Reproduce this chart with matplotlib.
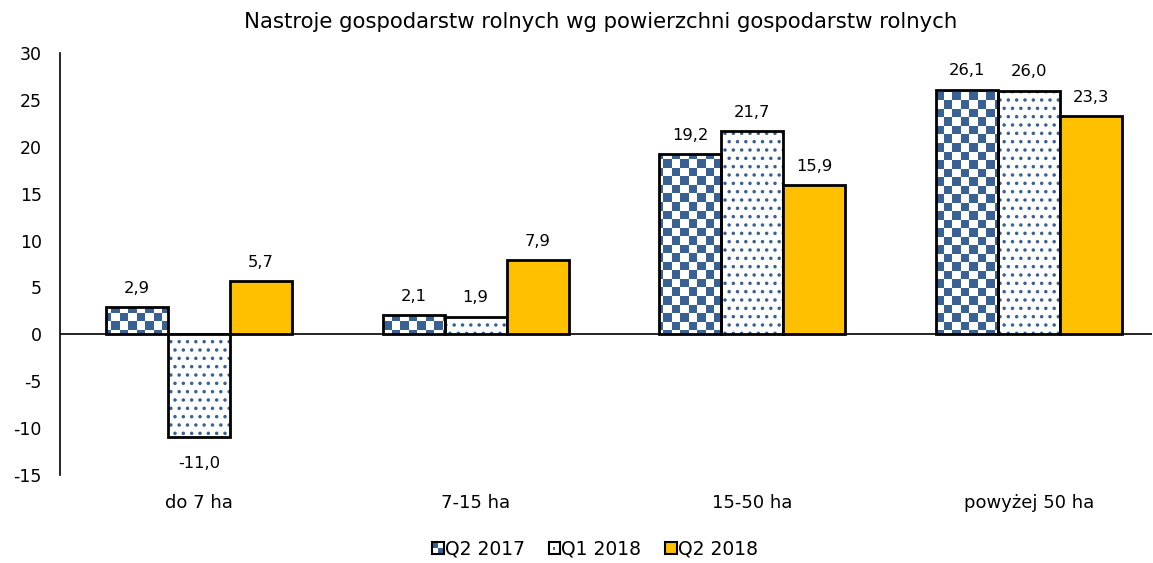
import numpy as np
import matplotlib
matplotlib.use("Agg")
import matplotlib.pyplot as plt
from matplotlib.patches import Rectangle
from matplotlib.legend_handler import HandlerBase
from matplotlib.colors import ListedColormap

categories = ["do 7 ha", "7-15 ha", "15-50 ha", "powyżej 50 ha"]
series_names = ["Q2 2017", "Q1 2018", "Q2 2018"]
q2_2017 = [2.9, 2.1, 19.2, 26.1]
q1_2018 = [-11.0, 1.9, 21.7, 26.0]
q2_2018 = [5.7, 7.9, 15.9, 23.3]
yticks = [-15, -10, -5, 0, 5, 10, 15, 20, 25, 30]
title = "Nastroje gospodarstw rolnych wg powierzchni gospodarstw rolnych"

BLUE = "#3A6194"
GOLD = "#FFC000"
plt.rcParams['font.family'] = ['DejaVu Sans']
plt.rcParams['hatch.linewidth'] = 1.3

W, H = 1153, 563
fig = plt.figure(figsize=(W / 100, H / 100), dpi=100)
ax = fig.add_axes([60 / W, 1 - 475 / H, (1152 - 60) / W, (475 - 53) / H])
xmin, xmax = -0.502, 3.444
ymin, ymax = -15, 30
ax.set_xlim(xmin, xmax)
ax.set_ylim(ymin, ymax)

x = np.arange(len(categories))
bw = 0.224
offs = [-bw, 0, bw]

# Q2 2017 checkerboard
base1 = ax.bar(x + offs[0], q2_2017, bw, color="white", linewidth=0, zorder=2)
px_per_x = (1152 - 60) / (xmax - xmin)
px_per_y = (475 - 53) / (ymax - ymin)
cell = 8.5
nx = int(np.ceil((xmax - xmin) * px_per_x / cell))
ny = int(np.ceil((ymax - ymin) * px_per_y / cell))
ii, jj = np.indices((ny, nx))
board = ((ii + jj) % 2).astype(float)
cmap = ListedColormap(["white", BLUE])
for p in base1.patches:
    im = ax.imshow(board, cmap=cmap, vmin=0, vmax=1, interpolation="nearest",
                   extent=(xmin, xmin + nx * cell / px_per_x, ymin, ymin + ny * cell / px_per_y),
                   origin="lower", aspect="auto", zorder=3)
    im.set_clip_path(p)
ax.bar(x + offs[0], q2_2017, bw, fill=False, edgecolor="black", linewidth=2, zorder=4)

# Q1 2018 dots
ax.bar(x + offs[1], q1_2018, bw, color="white", edgecolor=BLUE, linewidth=0,
       hatch="..", zorder=2)
ax.bar(x + offs[1], q1_2018, bw, fill=False, edgecolor="black", linewidth=2, zorder=4)

# Q2 2018 solid
ax.bar(x + offs[2], q2_2018, bw, color=GOLD, edgecolor="black", linewidth=2, zorder=4)

ax.axhline(0, color="black", linewidth=1.2, zorder=1)

for vals, off in zip([q2_2017, q1_2018, q2_2018], offs):
    for xi, v in zip(x, vals):
        lbl = f"{v:.1f}".replace(".", ",")
        if v >= 0:
            ax.annotate(lbl, (xi + off, v), xytext=(0, 8), textcoords="offset points",
                        ha="center", va="bottom", fontsize=11.8)
        else:
            ax.annotate(lbl, (xi + off, v), xytext=(0, -13), textcoords="offset points",
                        ha="center", va="top", fontsize=11.8)

ax.set_xticks(x)
ax.set_xticklabels(categories, fontsize=13)
ax.set_yticks(yticks)
ax.set_yticklabels([str(t) for t in yticks], fontsize=12.5)
ax.tick_params(axis="both", length=0)
ax.tick_params(axis="y", pad=13)
ax.tick_params(axis="x", pad=14)
for s in ["top", "right", "bottom"]:
    ax.spines[s].set_visible(False)
ax.spines["left"].set_linewidth(1.2)

fig.text(601 / W, 1 - 22 / H, title, ha="center", va="center", fontsize=15.3)


class Checker: pass
class Dots: pass
class Solid: pass


class KeyHandler(HandlerBase):
    def create_artists(self, legend, orig_handle, xdescent, ydescent, width, height, fontsize, trans):
        s = min(width, height)
        x0 = -xdescent + width - s
        y0 = -ydescent + (height - s) / 2
        arts = []
        if isinstance(orig_handle, Solid):
            arts.append(Rectangle((x0, y0), s, s, facecolor=GOLD, edgecolor="black", lw=1.5, transform=trans))
            return arts
        arts.append(Rectangle((x0, y0), s, s, facecolor="white", edgecolor="none", transform=trans))
        if isinstance(orig_handle, Checker):
            arts.append(Rectangle((x0, y0 + s / 2), s / 2, s / 2, facecolor=BLUE, edgecolor="none", transform=trans))
            arts.append(Rectangle((x0 + s / 2, y0), s / 2, s / 2, facecolor=BLUE, edgecolor="none", transform=trans))
        else:
            arts.append(Rectangle((x0 + s * 0.35, y0 + s * 0.35), s * 0.22, s * 0.22, facecolor=BLUE, edgecolor="none", transform=trans))
        arts.append(Rectangle((x0, y0), s, s, facecolor="none", edgecolor="black", lw=1.5, transform=trans))
        return arts


h = KeyHandler()
fig.legend([Checker(), Dots(), Solid()], series_names,
           handler_map={Checker: h, Dots: h, Solid: h},
           loc="center", bbox_to_anchor=(595 / W, 1 - 549 / H), ncol=3, frameon=False,
           fontsize=13.5, handlelength=0.6, handleheight=0.6, handletextpad=0.05,
           columnspacing=1.3)

fig.savefig("out.png", dpi=100)
